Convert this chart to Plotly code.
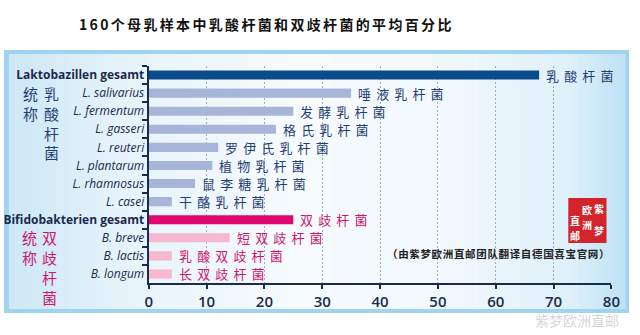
import plotly.graph_objects as go

# ---------------- data ----------------
labels_de = ["Laktobazillen gesamt", "L. salivarius", "L. fermentum", "L. gasseri",
             "L. reuteri", "L. plantarum", "L. rhamnosus", "L. casei",
             "Bifidobakterien gesamt", "B. breve", "B. lactis", "B. longum"]
values = [67.5, 35, 25, 22, 12, 11, 8, 4, 25, 14, 4, 4]
labels_cn = ["乳酸杆菌", "唾液乳杆菌", "发酵乳杆菌", "格氏乳杆菌", "罗伊氏乳杆菌",
             "植物乳杆菌", "鼠李糖乳杆菌", "干酪乳杆菌",
             "双歧杆菌", "短双歧杆菌", "乳酸双歧杆菌", "长双歧杆菌"]
groups = ["L", "L", "L", "L", "L", "L", "L", "L", "B", "B", "B", "B"]
is_total = [True, False, False, False, False, False, False, False, True, False, False, False]
x_ticks = [0, 10, 20, 30, 40, 50, 60, 70, 80]
title_text = "160个母乳样本中乳酸杆菌和双歧杆菌的平均百分比"
note_text = "（由紫梦欧洲直邮团队翻译自德国喜宝官网）"

# ---------------- style ----------------
W, H = 640, 335
NAVY = "#1b2a4e"
BLUE_TXT = "#1f3f75"
PINK_TXT = "#d0146f"
bar_colors = {("L", True): "#0b4a8b", ("L", False): "#a7b5d8",
              ("B", True): "#e0066f", ("B", False): "#f5b8ce"}
CJK = "Noto Sans CJK SC"


def px(x):
    return x / W


def py(y):
    return 1 - y / H


def spaced(s, sep="\u2004"):
    return sep.join(list(s))


tick_text = [("<b>%s</b>" % l) if t else ("<i>%s</i>" % l) for l, t in zip(labels_de, is_total)]

fig = go.Figure()
fig.add_trace(go.Bar(
    x=values, y=labels_de, orientation="h",
    marker=dict(color=[bar_colors[(g, t)] for g, t in zip(groups, is_total)], line=dict(width=0)),
    width=0.5, hoverinfo="skip", showlegend=False,
))

annotations = []
for lab, v, cn, g in zip(labels_de, values, labels_cn, groups):
    annotations.append(dict(
        x=v, y=lab, xref="x", yref="y", text=spaced(cn, "\u2004\u200a"), showarrow=False,
        xanchor="left", yanchor="middle", xshift=5,
        font=dict(family=CJK, size=13, color=BLUE_TXT if g == "L" else PINK_TXT),
    ))

# left side vertical group labels (one character per line, 20 px pitch)
for txt, xc, ytop, col in [("统称", 27, 93, BLUE_TXT), ("乳酸杆菌", 48, 93, BLUE_TXT),
                           ("统称", 26, 237, PINK_TXT), ("双歧杆菌", 46, 237, PINK_TXT)]:
    for i, ch in enumerate(txt):
        annotations.append(dict(
            x=px(xc), y=py(ytop + 20 * i), xref="paper", yref="paper", text=ch, showarrow=False,
            xanchor="center", yanchor="middle",
            font=dict(family=CJK, size=15, color=col),
        ))

# title
annotations.append(dict(
    x=px(266), y=py(24), xref="paper", yref="paper", text=spaced(title_text, "\u2006"),
    showarrow=False, xanchor="center", yanchor="middle",
    font=dict(family=CJK, size=14, color="#111111", weight=600),
))
# note
annotations.append(dict(
    x=px(504), y=py(254), xref="paper", yref="paper", text=spaced(note_text, "\u200a"),
    showarrow=False, xanchor="center", yanchor="middle",
    font=dict(family=CJK, size=10.5, color="#222222", weight=700),
))
# stamp text
for ch, xc, yc in [("紫", 607, 208), ("梦", 607, 230), ("欧", 595, 209), ("洲", 595, 224),
                   ("直", 583, 220), ("邮", 583, 236)]:
    annotations.append(dict(
        x=px(xc), y=py(yc), xref="paper", yref="paper", text=ch, showarrow=False,
        xanchor="center", yanchor="middle",
        font=dict(family=CJK, size=10, color="white", weight=700),
    ))
# watermark
annotations.append(dict(
    x=px(585), y=py(320), xref="paper", yref="paper", text="紫梦欧洲直邮", showarrow=False,
    xanchor="center", yanchor="middle",
    font=dict(family=CJK, size=14, color="rgba(160,160,160,0.45)"),
))

# background frame
shapes = [dict(type="rect", xref="paper", yref="paper", x0=0, x1=px(638), y0=py(313), y1=py(50),
               fillcolor="#9fd4f0", line=dict(width=0), layer="below")]
stops = [(5, (205, 232, 246)), (120, (230, 243, 251)), (300, (247, 251, 254)),
         (450, (242, 249, 253)), (580, (222, 240, 250)), (634, (190, 226, 244))]
xs = list(range(5, 634, 6)) + [634]
for a, b in zip(xs[:-1], xs[1:]):
    m = (a + b) / 2
    for (x0, c0), (x1, c1) in zip(stops[:-1], stops[1:]):
        if x0 <= m <= x1:
            t = (m - x0) / (x1 - x0)
            c = tuple(int(round(c0[i] + (c1[i] - c0[i]) * t)) for i in range(3))
            break
    shapes.append(dict(type="rect", xref="paper", yref="paper", x0=px(a), x1=px(b) + 0.001,
                       y0=py(309), y1=py(54), fillcolor="rgb(%d,%d,%d)" % c,
                       line=dict(width=0), layer="below"))
# stamp
shapes.append(dict(type="rect", xref="paper", yref="paper", x0=px(576), x1=px(615),
                   y0=py(243), y1=py(198), fillcolor="#d3242b", line=dict(width=0), layer="above"))

fig.update_layout(
    width=W, height=H, margin=dict(l=0, r=0, t=0, b=0),
    paper_bgcolor="white", plot_bgcolor="rgba(0,0,0,0)",
    bargap=0.5,
    xaxis=dict(domain=[px(147.7), px(620)], range=[0, 80], tickvals=x_ticks,
               showline=True, linecolor=NAVY, linewidth=2,
               ticks="outside", ticklen=4, tickcolor=NAVY, tickwidth=2,
               showgrid=True, gridcolor="#a3adbf", gridwidth=1, griddash="2px,2px",
               zeroline=False,
               tickfont=dict(family="Open Sans", size=15, color=NAVY, weight=600)),
    yaxis=dict(domain=[py(283), py(66)], type="category", range=[11.5, -0.5],
               categoryorder="array", categoryarray=labels_de,
               tickmode="array", tickvals=labels_de, ticktext=tick_text,
               tickson="boundaries", ticks="outside", ticklen=5, tickcolor=NAVY, tickwidth=2,
               showline=True, linecolor=NAVY, linewidth=2, showgrid=False,
               tickfont=dict(family="Open Sans", size=12, color=NAVY)),
    annotations=annotations, shapes=shapes,
)

fig.write_html("out.html")
